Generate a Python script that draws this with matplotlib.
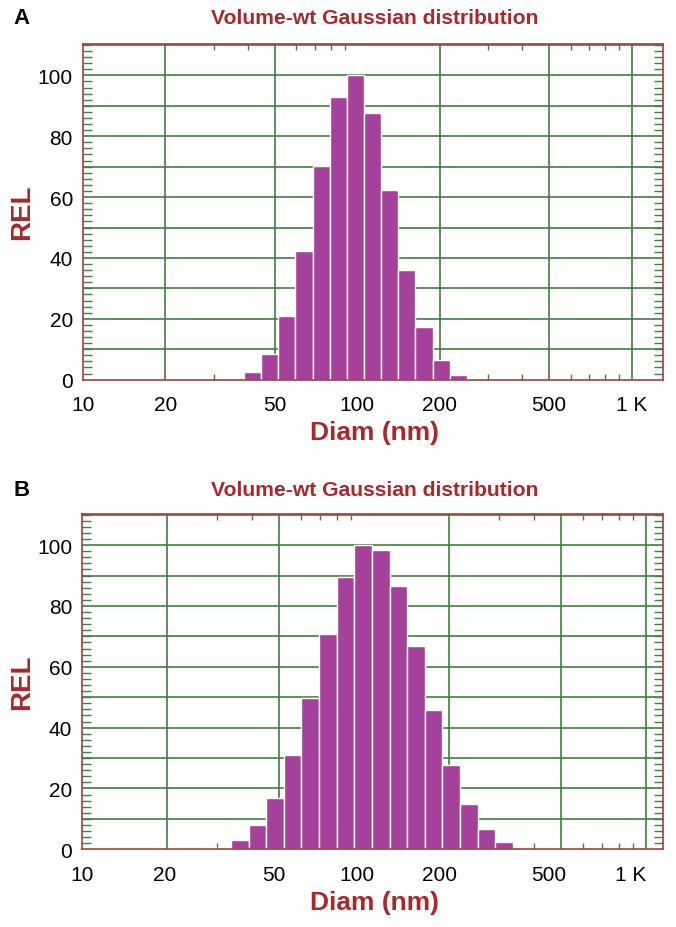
import matplotlib
matplotlib.use("Agg")
import matplotlib.pyplot as plt
import numpy as np
from matplotlib.ticker import FixedLocator, NullFormatter, NullLocator

plt.rcParams['font.family'] = ['Liberation Sans', 'DejaVu Sans']

# panel A - bar centres (nm) and relative volume
diam_a = [36.0, 41.5, 48.0, 55.4, 64.0, 73.9, 85.3, 98.5, 113.8, 131.4,
          151.7, 175.2, 202.3, 233.6]
rel_a = [0.3, 2.4, 8.5, 20.8, 42.4, 70.1, 92.9, 100, 87.6, 62.3,
         36.0, 17.3, 6.5, 1.6]

# panel B
diam_b = [31.4, 36.3, 41.9, 48.4, 55.8, 64.5, 74.5, 86.0, 99.3, 114.7,
          132.4, 152.9, 176.6, 203.9, 235.5, 271.9, 314.0, 362.6]
rel_b = [0.4, 3.0, 8.0, 16.8, 30.9, 49.8, 70.9, 89.5, 100, 98.5,
         86.4, 66.8, 45.9, 27.6, 14.8, 6.6, 2.4, 0.5]

x_ticks = [10, 20, 50, 100, 200, 500, 1000]
x_labels = ['10', '20', '50', '100', '200', '500', '1 K']
x_grid = [20, 50, 200, 500, 1000]
x_minor = [30, 40, 60, 70, 80, 90, 300, 400, 600, 700, 800, 900]
y_ticks = [0, 20, 40, 60, 80, 100]

DRED = '#a8282c'
GREEN = '#3f7f3f'
BAR = '#a5419a'
SPINE = '#a04040'
ratio = 10 ** (1 / 16)   # 16 bins per decade


def draw(ax, diam, rel, xmax):
    d = np.array(diam)
    left = d / np.sqrt(ratio)
    ax.set_xscale('log')
    ax.set_xlim(10, xmax)
    ax.set_ylim(0, 110.3)
    for g in x_grid:
        ax.axvline(g, color=GREEN, lw=1.2, zorder=1)
    for g in range(10, 111, 10):
        ax.axhline(g, color=GREEN, lw=1.2, zorder=1)
    ax.bar(left, rel, width=left * (ratio - 1), align='edge', color=BAR,
           edgecolor='white', linewidth=1.0, zorder=2)
    ax.xaxis.set_major_locator(NullLocator())
    ax.xaxis.set_minor_locator(FixedLocator(x_minor))
    ax.xaxis.set_minor_formatter(NullFormatter())
    ax.tick_params(axis='x', which='minor', direction='in', top=True,
                   bottom=True, length=4, width=1, color=GREEN)
    ax.set_yticks(y_ticks)
    ax.yaxis.set_minor_locator(FixedLocator(np.arange(0, 111, 2)))
    ax.tick_params(axis='y', which='major', length=0, labelsize=15, pad=7)
    ax.tick_params(axis='y', which='minor', direction='in', left=True,
                   right=True, length=6.5, width=1, color=GREEN)
    for s in ax.spines.values():
        s.set_color(SPINE)
        s.set_linewidth(1.2)
        s.set_zorder(3)


def label_x(ax):
    ax.set_xticks(x_ticks)
    ax.set_xticklabels(x_labels)
    ax.tick_params(axis='x', which='major', length=0, labelsize=15, pad=11)


fig = plt.figure(figsize=(6.76, 9.28), dpi=100)
ax_a = fig.add_axes([0.1223, 0.5898, 0.8589, 0.3617])
ax_b = fig.add_axes([0.1213, 0.0837, 0.8599, 0.3616])

draw(ax_a, diam_a, rel_a, 1303)
label_x(ax_a)
ax_a.xaxis.set_minor_locator(FixedLocator(x_minor))

draw(ax_b, diam_b, rel_b, 1152)
# panel B prints its tick labels at panel A's spacing
k = 282 / 274.5
sec = ax_b.secondary_xaxis(
    'bottom',
    functions=(lambda x: 10 * (np.clip(x, 1e-3, None) / 10) ** k,
               lambda x: 10 * (np.clip(x, 1e-3, None) / 10) ** (1 / k)))
label_x(sec)
sec.xaxis.set_minor_locator(NullLocator())
sec.spines['bottom'].set_visible(False)

for top, mid, lab in [(18, 212, 'A'), (490, 682, 'B')]:
    fig.text(22 / 676, 1 - top / 928, lab, ha='center', va='center',
             fontsize=16, fontweight='bold')
    fig.text(375 / 676, 1 - top / 928, 'Volume-wt Gaussian distribution',
             ha='center', va='center', fontsize=15.2, fontweight='bold',
             color=DRED)
    fig.text(22 / 676, 1 - mid / 928, 'REL', ha='center', va='center',
             rotation=90, fontsize=20, fontweight='bold', color=DRED)
    fig.text(375 / 676, 1 - (mid + 221) / 928, 'Diam (nm)', ha='center',
             va='center', fontsize=19, fontweight='bold', color=DRED)

fig.savefig('out.png', dpi=100)
